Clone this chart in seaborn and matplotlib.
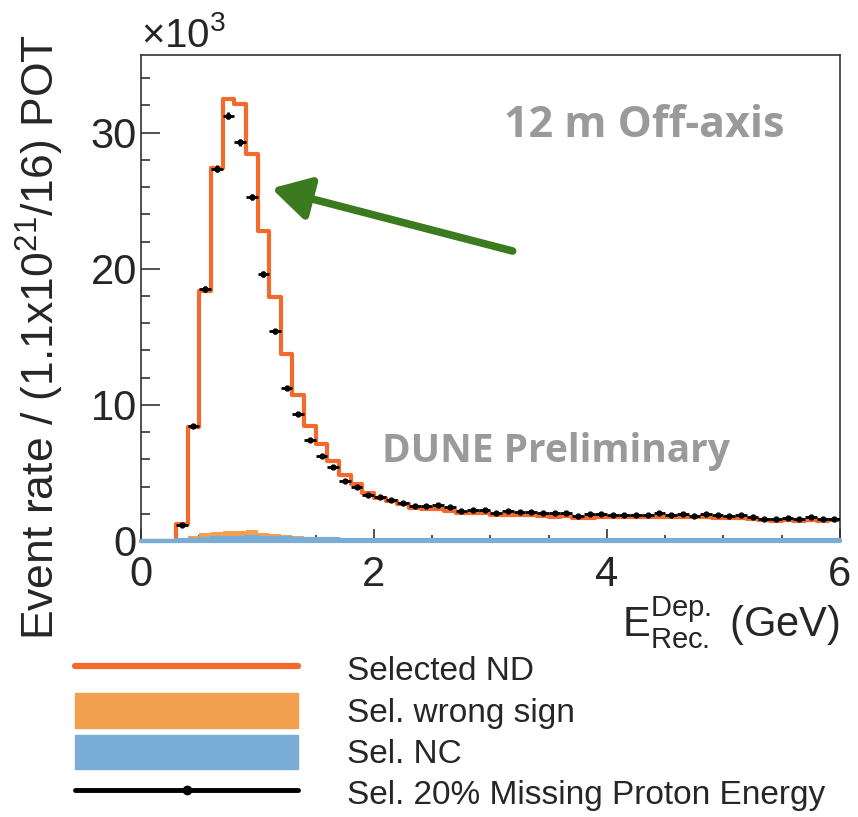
import numpy as np
import pandas as pd
import seaborn as sns
import matplotlib.pyplot as plt
from matplotlib.lines import Line2D
from matplotlib.patches import Patch
from matplotlib.ticker import MultipleLocator

# ---------------- data (event rate in units of 10^3) ----------------
# 0.1 GeV bins from 0 to 6 GeV
energy_edges = [round(0.1 * i, 2) for i in range(61)]
energy_centers = [round(0.1 * i + 0.05, 3) for i in range(60)]

selected_nd = [
    0, 0, 0, 1.25, 8.4, 18.4, 27.4, 32.5, 32.1, 28.4,
    22.8, 17.9, 13.7, 10.7, 8.45, 7.1, 5.9, 4.85, 4.2, 3.5,
    3.15, 2.92, 2.70, 2.40, 2.36, 2.34, 2.24, 2.05, 2.04, 2.06,
    1.90, 1.92, 1.92, 1.90, 1.85, 1.77, 1.80, 1.70, 1.68, 1.74,
    1.78, 1.77, 1.79, 1.77, 1.79, 1.75, 1.77, 1.75, 1.73, 1.72,
    1.71, 1.69, 1.63, 1.52, 1.50, 1.52, 1.48, 1.52, 1.47, 1.52,
]

missing_proton = [
    np.nan, np.nan, np.nan, 1.2, 8.45, 18.5, 27.35, 31.25, 29.3, 25.3,
    19.6, 15.4, 11.25, 9.3, 7.4, 6.25, 5.4, 4.4, 3.95, 3.4,
    3.21, 3.03, 2.81, 2.59, 2.59, 2.67, 2.50, 2.20, 2.30, 2.30,
    2.06, 2.20, 2.15, 2.13, 2.06, 2.03, 2.08, 1.86, 2.01, 1.98,
    1.93, 1.91, 1.93, 1.93, 2.06, 1.93, 1.96, 1.86, 1.96, 1.91,
    1.86, 1.91, 1.79, 1.64, 1.62, 1.69, 1.62, 1.79, 1.59, 1.64,
]
missing_proton_err = [
    0, 0, 0, 0.08, 0.15, 0.2, 0.25, 0.25, 0.25, 0.22,
    0.2, 0.18, 0.15, 0.14, 0.12, 0.11, 0.1, 0.09, 0.09, 0.08,
    0.08, 0.08, 0.07, 0.07, 0.07, 0.07, 0.07, 0.06, 0.06, 0.06,
    0.06, 0.06, 0.06, 0.06, 0.06, 0.06, 0.06, 0.06, 0.06, 0.06,
    0.06, 0.06, 0.06, 0.06, 0.06, 0.06, 0.06, 0.06, 0.06, 0.06,
    0.06, 0.06, 0.06, 0.06, 0.06, 0.06, 0.06, 0.06, 0.06, 0.06,
]

wrong_sign = [
    0, 0, 0, 0.1, 0.4, 0.58, 0.65, 0.72, 0.76, 0.8,
    0.62, 0.52, 0.46, 0.37, 0.31, 0.27, 0.24, 0.21, 0.19, 0.17,
    0.15, 0.14, 0.13, 0.12, 0.11, 0.1, 0.1, 0.09, 0.09, 0.08,
    0.08, 0.07, 0.07, 0.07, 0.06, 0.06, 0.06, 0.06, 0.05, 0.05,
    0.05, 0.05, 0.05, 0.05, 0.04, 0.04, 0.04, 0.04, 0.04, 0.04,
    0.04, 0.04, 0.03, 0.03, 0.03, 0.03, 0.03, 0.03, 0.03, 0.03,
]

sel_nc = [
    0, 0, 0, 0.05, 0.1, 0.15, 0.2, 0.22, 0.25, 0.27,
    0.25, 0.22, 0.2, 0.18, 0.15, 0.13, 0.12, 0.1, 0.1, 0.09,
    0.08, 0.08, 0.07, 0.07, 0.07, 0.06, 0.06, 0.06, 0.06, 0.05,
    0.05, 0.05, 0.05, 0.05, 0.05, 0.05, 0.04, 0.04, 0.04, 0.04,
    0.04, 0.04, 0.04, 0.04, 0.04, 0.04, 0.04, 0.04, 0.04, 0.04,
    0.04, 0.04, 0.04, 0.04, 0.04, 0.04, 0.04, 0.04, 0.04, 0.04,
]

legend_labels = ["Selected ND", "Sel. wrong sign", "Sel. NC",
                 "Sel. 20% Missing Proton Energy"]

# colours
c_nd = "#f26b2d"
c_ws = "#f2a050"
c_nc = "#7aadd6"
c_green = "#3b7a1e"
c_gray = "#9a9a9a"

# annotation arrow (data coords)
arrow_tail = (3.19, 21.3)
arrow_head = (1.12, 25.9)

df = pd.DataFrame({
    "E": energy_centers,
    "nd": selected_nd,
    "ws": wrong_sign,
    "nc": sel_nc,
    "mp": missing_proton,
    "mp_err": missing_proton_err,
})

# ---------------- plotting ----------------
sns.set_style("ticks")
plt.rcParams['font.family'] = ['Liberation Sans', 'DejaVu Sans']
plt.rcParams['mathtext.fontset'] = 'custom'
plt.rcParams['mathtext.rm'] = 'Liberation Sans'
plt.rcParams['mathtext.it'] = 'Liberation Sans:italic'

fig = plt.figure(figsize=(8.58, 8.17), dpi=100)
ax = fig.add_axes([141 / 858, 1 - 541 / 817, 699 / 858, 486 / 817])

sns.histplot(data=df, x="E", weights="ws", bins=energy_edges,
             element="step", fill=True, alpha=1, linewidth=0,
             color=c_ws, ax=ax, zorder=1)
sns.histplot(data=df, x="E", weights="nd", bins=energy_edges,
             element="step", fill=False, linewidth=3, color=c_nd,
             ax=ax, zorder=2)
n_before = len(ax.collections)
sns.histplot(data=df, x="E", weights="nc", bins=energy_edges,
             element="step", fill=True, alpha=1, linewidth=3.0,
             color=c_nc, edgecolor=c_nc, ax=ax, zorder=3)
for coll in ax.collections[n_before:]:
    coll.set_clip_on(False)

ax.errorbar(df["E"], df["mp"], xerr=0.05, yerr=df["mp_err"],
            fmt="o", color="black", ms=3.5, lw=2, capsize=0, zorder=4)

ax.set_xlim(0, 6)
ax.set_ylim(0, 35.7)
ax.xaxis.set_major_locator(MultipleLocator(2))
ax.xaxis.set_minor_locator(MultipleLocator(0.5))
ax.yaxis.set_major_locator(MultipleLocator(10))
ax.yaxis.set_minor_locator(MultipleLocator(2))
ax.tick_params(axis="both", which="both", direction="in", labelsize=30,
               color="#333333", width=1.2, top=False, right=False)
ax.tick_params(axis="y", which="major", length=14, pad=3)
ax.tick_params(axis="y", which="minor", length=6.5)
ax.tick_params(axis="x", which="major", length=9, pad=10)
ax.tick_params(axis="x", which="minor", length=4)
for sp in ax.spines.values():
    sp.set_color("#333333")
    sp.set_linewidth(1.2)

ax.set_ylabel("Event rate / (1.1x10$^{21}$/16) POT", fontsize=32)
ax.yaxis.set_label_coords(-0.108, 0.42)
ax.set_xlabel(r"$\mathrm{E}^{\mathrm{Dep.}}_{\mathrm{Rec.}}$ (GeV)",
              fontsize=30, loc="right", labelpad=0)
ax.text(0.0, 1.0, r"$\times$10$^{3}$", transform=ax.transAxes,
        fontsize=29, ha="left", va="bottom")

ax.text(0.72, 0.855, "12 m Off-axis", transform=ax.transAxes, fontsize=31,
        fontweight="bold", family="Open Sans", color=c_gray,
        ha="center", va="center")
ax.text(0.594, 0.185, "DUNE Preliminary", transform=ax.transAxes, fontsize=28,
        fontweight="bold", family="Open Sans", color=c_gray,
        ha="center", va="center")

ax.annotate("", xy=arrow_head, xytext=arrow_tail,
            arrowprops=dict(arrowstyle="-|>,head_length=1.15,head_width=0.65",
                            color=c_green, lw=5.5, mutation_scale=20,
                            shrinkA=0, shrinkB=0))

handles = [
    Line2D([], [], color=c_nd, lw=4.5),
    Patch(facecolor=c_ws, edgecolor=c_ws),
    Patch(facecolor=c_nc, edgecolor=c_nc),
    Line2D([], [], color="black", lw=3.5, marker="o", ms=6),
]
fig.legend(handles, legend_labels, loc="upper left",
           bbox_to_anchor=(75 / 858, 1 - 652 / 817), frameon=False,
           fontsize=24, handlelength=6.7, handleheight=1.2,
           labelspacing=0.18, handletextpad=1.45, borderpad=0,
           borderaxespad=0, numpoints=1)

fig.savefig("out.png", dpi=100)
